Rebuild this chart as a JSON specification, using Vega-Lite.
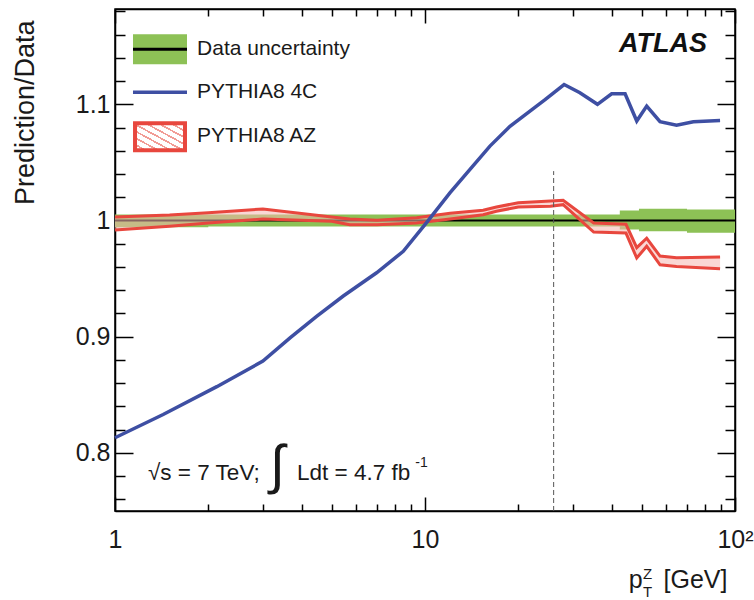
{
  "$schema": "https://vega.github.io/schema/vega-lite/v6.json",
  "autosize": {"type": "none"},
  "padding": {"left": 115, "top": 9, "right": 19, "bottom": 89},
  "width": 620,
  "height": 502,
  "background": "white",
  "config": {
    "font": "Liberation Sans",
    "view": {"stroke": "black", "strokeWidth": 1.5},
    "axis": {"grid": false, "domainColor": "black", "domainWidth": 1.5, "tickColor": "black", "tickWidth": 1.5, "labelColor": "#1a1a1a", "titleColor": "#1a1a1a", "labelFont": "Liberation Sans", "titleFont": "Liberation Sans", "titleFontWeight": "normal"}
  },
  "datasets": {
    "green": [
      {"x": 1, "lo": 0.9942, "hi": 1.0052},
      {"x": 2, "lo": 0.9948, "hi": 1.0052},
      {"x": 42.5, "lo": 0.9922, "hi": 1.0086},
      {"x": 49, "lo": 0.9908, "hi": 1.0100},
      {"x": 70, "lo": 0.9894, "hi": 1.0095},
      {"x": 100, "lo": 0.9894, "hi": 1.0095}
    ],
    "blue": [
      {"x": 1, "y": 0.813},
      {"x": 1.43, "y": 0.833},
      {"x": 2.13, "y": 0.857},
      {"x": 3.0, "y": 0.879},
      {"x": 3.67, "y": 0.899},
      {"x": 4.47, "y": 0.9175},
      {"x": 5.45, "y": 0.935},
      {"x": 6.98, "y": 0.955},
      {"x": 8.51, "y": 0.9735},
      {"x": 10.1, "y": 0.998},
      {"x": 12.05, "y": 1.024},
      {"x": 13.97, "y": 1.044},
      {"x": 16.2, "y": 1.064},
      {"x": 18.8, "y": 1.081},
      {"x": 22.9, "y": 1.0985},
      {"x": 24.4, "y": 1.104},
      {"x": 28.1, "y": 1.117},
      {"x": 31.6, "y": 1.110},
      {"x": 36.0, "y": 1.100},
      {"x": 40.0, "y": 1.109},
      {"x": 44.2, "y": 1.109},
      {"x": 48.2, "y": 1.0856},
      {"x": 51.9, "y": 1.0985},
      {"x": 57.3, "y": 1.085},
      {"x": 64.8, "y": 1.082},
      {"x": 73.4, "y": 1.085},
      {"x": 89.5, "y": 1.086}
    ],
    "red": [
      {"x": 1, "lo": 0.9918, "hi": 1.0030},
      {"x": 1.5, "lo": 0.9950, "hi": 1.0047},
      {"x": 2, "lo": 0.9978, "hi": 1.0067},
      {"x": 3, "lo": 1.0013, "hi": 1.0099},
      {"x": 5, "lo": 0.9993, "hi": 1.0030},
      {"x": 5.72, "lo": 0.9964, "hi": 1.0013},
      {"x": 7, "lo": 0.9964, "hi": 1.0002},
      {"x": 9.4, "lo": 0.9978, "hi": 1.0024},
      {"x": 12.05, "lo": 1.0013, "hi": 1.0063},
      {"x": 15.4, "lo": 1.0050, "hi": 1.0088},
      {"x": 17, "lo": 1.0079, "hi": 1.0116},
      {"x": 20, "lo": 1.0116, "hi": 1.0153},
      {"x": 25.4, "lo": 1.0122, "hi": 1.0168},
      {"x": 27.9, "lo": 1.0136, "hi": 1.0174},
      {"x": 35, "lo": 0.9901, "hi": 0.9978},
      {"x": 44.5, "lo": 0.9892, "hi": 0.9967},
      {"x": 48.2, "lo": 0.9677, "hi": 0.9766},
      {"x": 51.9, "lo": 0.9778, "hi": 0.9847},
      {"x": 57.3, "lo": 0.9619, "hi": 0.9694},
      {"x": 64.8, "lo": 0.9605, "hi": 0.9679},
      {"x": 89.5, "lo": 0.9585, "hi": 0.9685}
    ],
    "one": [{}]
  },
  "layer": [
    {
      "layer": [
        {
          "data": {"name": "green"},
          "mark": {"type": "area", "interpolate": "step-after", "opacity": 1},
          "encoding": {
            "x": {"field": "x", "type": "quantitative",
              "scale": {"type": "log", "domain": [1, 100], "nice": false},
              "axis": {
                "orient": "bottom",
                "title": "p\u00a0\u00a0\u00a0[GeV]",
                "titleFontSize": 25,
                "titleAnchor": "end",
                "titleAlign": "right",
                "titleBaseline": "alphabetic",
                "titleX": 612,
                "titleY": 76,
                "values": [1, 2, 3, 4, 5, 6, 7, 8, 9, 10, 20, 30, 40, 50, 60, 70, 80, 90, 100],
                "tickCount": 100,
                "labelExpr": "datum.value == 1 ? '1' : datum.value == 10 ? '10' : datum.value == 100 ? '10²' : ''",
                "labelFontSize": 25,
                "labelFlush": false,
                "labelOverlap": false,
                "labelPadding": 30,
                "tickSize": {"condition": {"test": "datum.value == 1 || datum.value == 10 || datum.value == 100", "value": -14}, "value": -7}
              }
            },
            "y": {"field": "lo", "type": "quantitative",
              "scale": {"domain": [0.75, 1.182], "nice": false, "zero": false},
              "axis": {
                "orient": "left",
                "title": "Prediction/Data",
                "titleFontSize": 27,
                "titleAnchor": "end",
                "titleAlign": "right",
                "titleAngle": -90,
                "titleBaseline": "middle",
                "titleX": -90,
                "titleY": 11,
                "values": [0.76, 0.78, 0.8, 0.82, 0.84, 0.86, 0.88, 0.9, 0.92, 0.94, 0.96, 0.98, 1, 1.02, 1.04, 1.06, 1.08, 1.1, 1.12, 1.14, 1.16, 1.18],
                "tickCount": 100,
                "labelExpr": "abs(datum.value*10 - round(datum.value*10)) < 0.001 ? format(datum.value, '~g') : ''",
                "labelFontSize": 25,
                "labelOverlap": false,
                "labelPadding": 23,
                "tickSize": {"condition": {"test": "abs(datum.value*10 - round(datum.value*10)) < 0.001", "value": -18}, "value": -10}
              }
            },
            "y2": {"field": "hi"},
            "color": {"datum": "Data uncertainty", "type": "nominal",
              "scale": {"domain": ["Data uncertainty", "PYTHIA8 4C", "PYTHIA8 AZ"], "range": ["#8dc156", "#3e4fa3", "#e8473e"]},
              "legend": null
            }
          }
        },
        {
          "data": {"name": "one"},
          "mark": {"type": "rule", "color": "black", "strokeWidth": 2},
          "encoding": {"y": {"datum": 1, "type": "quantitative"}}
        },
        {
          "data": {"name": "red"},
          "mark": {"type": "area", "color": "#f5b7b1", "opacity": 0.55},
          "encoding": {
            "x": {"field": "x", "type": "quantitative"},
            "y": {"field": "lo", "type": "quantitative"},
            "y2": {"field": "hi"}
          }
        },
        {
          "data": {"name": "red"},
          "mark": {"type": "line", "strokeWidth": 3},
          "encoding": {
            "x": {"field": "x", "type": "quantitative"},
            "y": {"field": "hi", "type": "quantitative"},
            "color": {"datum": "PYTHIA8 AZ", "type": "nominal", "legend": null}
          }
        },
        {
          "data": {"name": "red"},
          "mark": {"type": "line", "strokeWidth": 3},
          "encoding": {
            "x": {"field": "x", "type": "quantitative"},
            "y": {"field": "lo", "type": "quantitative"},
            "color": {"datum": "PYTHIA8 AZ", "type": "nominal", "legend": null}
          }
        },
        {
          "data": {"name": "blue"},
          "mark": {"type": "line", "strokeWidth": 3.5},
          "encoding": {
            "x": {"field": "x", "type": "quantitative"},
            "y": {"field": "y", "type": "quantitative"},
            "color": {"datum": "PYTHIA8 4C", "type": "nominal", "legend": null}
          }
        },
        {
          "data": {"name": "one"},
          "mark": {"type": "rule", "color": "#555555", "strokeWidth": 1, "strokeDash": [5, 3]},
          "encoding": {
            "x": {"datum": 26, "type": "quantitative"},
            "y": {"datum": 0.75, "type": "quantitative"},
            "y2": {"datum": 1.0425}
          }
        },
        {
          "data": {"name": "one"},
          "mark": {"type": "rect", "color": "#8dc156", "opacity": 1},
          "encoding": {
            "x": {"datum": 1.143, "type": "quantitative"},
            "x2": {"datum": 1.7071},
            "y": {"datum": 1.13448, "type": "quantitative"},
            "y2": {"datum": 1.16034}
          }
        },
        {
          "data": {"name": "one"},
          "mark": {"type": "rule", "color": "black", "strokeWidth": 3},
          "encoding": {
            "x": {"datum": 1.143, "type": "quantitative"},
            "x2": {"datum": 1.7071},
            "y": {"datum": 1.14741, "type": "quantitative"}
          }
        },
        {
          "data": {"name": "one"},
          "mark": {"type": "rule", "color": "#3e4fa3", "strokeWidth": 3.5},
          "encoding": {
            "x": {"datum": 1.143, "type": "quantitative"},
            "x2": {"datum": 1.7071},
            "y": {"datum": 1.11034, "type": "quantitative"}
          }
        },
        {
          "data": {"name": "one"},
          "mark": {"type": "rect", "stroke": "#e8473e", "strokeWidth": 4, "opacity": 1,
            "fill": {"gradient": "linear", "x1": 0, "y1": 1, "x2": 1, "y2": 0, "stops": [
              {"offset": 0, "color": "#ffffff"}, {"offset": 0.09, "color": "#ffffff"}, {"offset": 0.09, "color": "#f19c95"}, {"offset": 0.125, "color": "#f19c95"},
              {"offset": 0.125, "color": "#ffffff"}, {"offset": 0.215, "color": "#ffffff"}, {"offset": 0.215, "color": "#f19c95"}, {"offset": 0.25, "color": "#f19c95"},
              {"offset": 0.25, "color": "#ffffff"}, {"offset": 0.34, "color": "#ffffff"}, {"offset": 0.34, "color": "#f19c95"}, {"offset": 0.375, "color": "#f19c95"},
              {"offset": 0.375, "color": "#ffffff"}, {"offset": 0.465, "color": "#ffffff"}, {"offset": 0.465, "color": "#f19c95"}, {"offset": 0.5, "color": "#f19c95"},
              {"offset": 0.5, "color": "#ffffff"}, {"offset": 0.59, "color": "#ffffff"}, {"offset": 0.59, "color": "#f19c95"}, {"offset": 0.625, "color": "#f19c95"},
              {"offset": 0.625, "color": "#ffffff"}, {"offset": 0.715, "color": "#ffffff"}, {"offset": 0.715, "color": "#f19c95"}, {"offset": 0.75, "color": "#f19c95"},
              {"offset": 0.75, "color": "#ffffff"}, {"offset": 0.84, "color": "#ffffff"}, {"offset": 0.84, "color": "#f19c95"}, {"offset": 0.875, "color": "#f19c95"},
              {"offset": 0.875, "color": "#ffffff"}, {"offset": 0.965, "color": "#ffffff"}, {"offset": 0.965, "color": "#f19c95"}, {"offset": 1, "color": "#f19c95"}
            ]}
          },
          "encoding": {
            "x": {"datum": 1.1604, "type": "quantitative"},
            "x2": {"datum": 1.6818},
            "y": {"datum": 1.06034, "type": "quantitative"},
            "y2": {"datum": 1.08362}
          }
        },
        {
          "data": {"name": "one"},
          "mark": {"type": "text", "text": "Data uncertainty", "fontSize": 21, "align": "left", "baseline": "middle", "color": "#1a1a1a"},
          "encoding": {
            "x": {"datum": 1.8393, "type": "quantitative"},
            "y": {"datum": 1.14741, "type": "quantitative"}
          }
        },
        {
          "data": {"name": "one"},
          "mark": {"type": "text", "text": "PYTHIA8 4C", "fontSize": 21, "align": "left", "baseline": "middle", "color": "#1a1a1a"},
          "encoding": {
            "x": {"datum": 1.8393, "type": "quantitative"},
            "y": {"datum": 1.11034, "type": "quantitative"}
          }
        },
        {
          "data": {"name": "one"},
          "mark": {"type": "text", "text": "PYTHIA8 AZ", "fontSize": 21, "align": "left", "baseline": "middle", "color": "#1a1a1a"},
          "encoding": {
            "x": {"datum": 1.8393, "type": "quantitative"},
            "y": {"datum": 1.07241, "type": "quantitative"}
          }
        },
        {
          "data": {"name": "one"},
          "mark": {"type": "text", "text": "ATLAS", "font": "Liberation Sans", "fontSize": 27, "fontWeight": "bold", "fontStyle": "italic", "align": "right", "baseline": "alphabetic", "color": "#111111"},
          "encoding": {
            "x": {"datum": 81.2, "type": "quantitative"},
            "y": {"datum": 1.1448, "type": "quantitative"}
          }
        },
        {
          "data": {"name": "one"},
          "mark": {"type": "text", "text": "√s = 7 TeV;", "fontSize": 22.5, "align": "left", "baseline": "alphabetic", "color": "#1a1a1a"},
          "encoding": {
            "x": {"datum": 1.278, "type": "quantitative"},
            "y": {"datum": 0.7767, "type": "quantitative"}
          }
        },
        {
          "data": {"name": "one"},
          "mark": {"type": "text", "text": "∫", "fontSize": 54, "align": "left", "baseline": "middle", "color": "#1a1a1a"},
          "encoding": {
            "x": {"datum": 3.162, "type": "quantitative"},
            "y": {"datum": 0.7879, "type": "quantitative"}
          }
        },
        {
          "data": {"name": "one"},
          "mark": {"type": "text", "text": "Ldt = 4.7 fb", "fontSize": 22.5, "align": "left", "baseline": "alphabetic", "color": "#1a1a1a"},
          "encoding": {
            "x": {"datum": 3.866, "type": "quantitative"},
            "y": {"datum": 0.7767, "type": "quantitative"}
          }
        },
        {
          "data": {"name": "one"},
          "mark": {"type": "text", "text": "-1", "fontSize": 14, "align": "left", "baseline": "alphabetic", "color": "#1a1a1a"},
          "encoding": {
            "x": {"datum": 9.3, "type": "quantitative"},
            "y": {"datum": 0.788, "type": "quantitative"}
          }
        },
        {
          "data": {"name": "one"},
          "mark": {"type": "text", "text": "Z", "fontSize": 15, "align": "left", "baseline": "alphabetic", "color": "#1a1a1a"},
          "encoding": {
            "x": {"datum": 50.5, "type": "quantitative"},
            "y": {"datum": 0.6914, "type": "quantitative"}
          }
        },
        {
          "data": {"name": "one"},
          "mark": {"type": "text", "text": "T", "fontSize": 15, "align": "left", "baseline": "alphabetic", "color": "#1a1a1a"},
          "encoding": {
            "x": {"datum": 50.5, "type": "quantitative"},
            "y": {"datum": 0.6759, "type": "quantitative"}
          }
        }
      ]
    },
    {
      "data": {"name": "one"},
      "mark": {"type": "rule", "opacity": 0},
      "encoding": {
        "x": {"datum": 10, "type": "quantitative",
          "axis": {
            "orient": "top", "title": null, "labels": false,
            "values": [1, 2, 3, 4, 5, 6, 7, 8, 9, 10, 20, 30, 40, 50, 60, 70, 80, 90, 100],
            "tickCount": 100,
            "tickSize": {"condition": {"test": "datum.value == 1 || datum.value == 10 || datum.value == 100", "value": -14}, "value": -7}
          }
        },
        "y": {"datum": 1, "type": "quantitative",
          "axis": {
            "orient": "right", "title": null, "labels": false,
            "values": [0.76, 0.78, 0.8, 0.82, 0.84, 0.86, 0.88, 0.9, 0.92, 0.94, 0.96, 0.98, 1, 1.02, 1.04, 1.06, 1.08, 1.1, 1.12, 1.14, 1.16, 1.18],
            "tickCount": 100,
            "tickSize": {"condition": {"test": "abs(datum.value*10 - round(datum.value*10)) < 0.001", "value": -18}, "value": -10}
          }
        }
      }
    }
  ],
  "resolve": {"axis": {"x": "independent", "y": "independent"}}
}
